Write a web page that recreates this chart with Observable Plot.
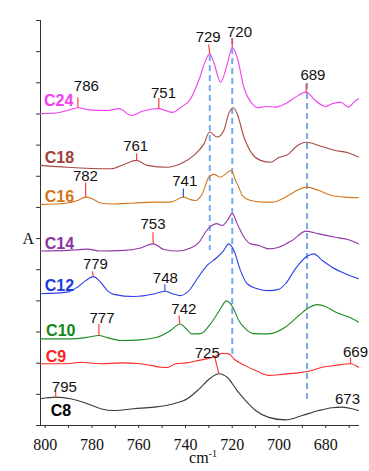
<!DOCTYPE html>
<html><head><meta charset="utf-8">
<script src="https://cdn.jsdelivr.net/npm/d3@7"></script>
<script src="https://cdn.jsdelivr.net/npm/@observablehq/plot@0.6"></script>
<style>body{margin:0;background:#fff}</style>
</head><body><div id="chart"></div>
<script>
// ---- data (wavenumber cm-1, absorbance in stacked axis units) ----
const c24Wn = [802,795.5,790.5,786,781.3,773.4,768.5,763,758.5,751.4,745.7,741.8,737.8,734.3,731.4,729.7,727.9,725,722.1,720,717.9,715,711.5,709.3,705.8,701.5,697.2,693,688.4,684.4,680.1,677.3,673.7,670.2,668,666];
const c24A  = [10.01,10.03,10.11,10.20,10.13,10.11,10.17,9.95,10.09,10.17,10.05,10.22,10.49,11.08,11.72,11.93,11.66,11.02,11.61,12.14,11.82,10.85,10.33,10.20,10.24,10.22,10.33,10.54,10.70,10.43,10.24,10.33,10.38,10.22,10.38,10.49];
const c18Wn = [802,790.5,772,766.3,760.9,756.3,747.8,742.1,736.4,732.1,729.7,726.4,723.6,721.5,719.6,717.9,715,711.5,707.9,703.6,700.1,695.8,693,688.4,683,675.9,670.2,666];
const c18A  = [8.35,8.29,8.24,8.38,8.51,8.35,8.29,8.40,8.67,9.04,9.42,9.26,9.47,10.01,10.20,10.01,9.26,8.72,8.51,8.45,8.60,8.72,8.93,9.09,8.99,8.83,8.75,8.62];
const c16Wn = [802,790.5,786.2,782.7,779.1,776.3,772,762.1,753.5,746.4,740.9,737.8,735.7,732.8,730,727.9,725,722.4,720.4,718.6,717.2,715.7,712.2,706.5,702.9,697.2,693,688,683,677.3,671.6,666];
const c16A  = [7.09,7.14,7.22,7.33,7.25,7.14,7.11,7.14,7.17,7.17,7.33,7.25,7.22,7.44,7.97,8.06,7.97,8.10,8.19,7.87,7.65,7.38,7.22,7.17,7.17,7.33,7.52,7.65,7.54,7.38,7.33,7.31];
const c14Wn = [802,790.5,782,776.3,766.3,759.2,753.8,749.2,743.5,737.8,734.3,731.4,729.3,726.7,724.3,722.1,720,717.9,715,712.2,708.6,704.4,700.1,694.4,688.4,683,675.9,670.2,666];
const c14A  = [5.60,5.62,5.66,5.60,5.62,5.70,5.83,5.65,5.60,5.70,5.87,6.21,6.39,6.48,6.42,6.58,6.80,6.48,6.05,5.83,5.78,5.67,5.72,5.94,6.24,6.15,6.04,5.96,5.83];
const c12Wn = [802,790.5,786.2,782.7,779.4,776.3,773.4,770.6,762.1,753.5,748.8,745.6,742.1,737.8,735,730.7,726.4,723.6,721.5,719.3,716.5,713.6,709.3,704.5,700.2,697.2,693,688,685.1,681.5,677.3,671.6,666];
const c12A  = [4.23,4.28,4.44,4.65,4.78,4.60,4.33,4.21,4.14,4.22,4.31,4.23,4.17,4.39,4.71,5.14,5.40,5.62,5.83,5.62,4.98,4.55,4.39,4.33,4.37,4.55,5.03,5.43,5.51,5.30,5.08,4.87,4.71];
const c10Wn = [802,790.5,782,777,773.4,767.7,759.2,752.1,746.4,742.4,740,737.1,733.5,729.3,725.4,722.4,719.7,717.2,714.3,710.9,704.4,697.2,691.5,687.3,683.7,680.1,675.9,670.2,666];
const c10A  = [2.78,2.78,2.83,2.89,2.82,2.73,2.75,2.83,3.05,3.26,3.13,2.94,2.95,3.26,3.70,4.00,3.79,3.37,3.10,2.95,2.94,3.16,3.53,3.78,3.88,3.82,3.64,3.48,3.32];
const c9Wn  = [802,790.5,784.8,776.3,767.7,759.2,754.9,750.6,747.8,744.2,739.5,734.3,728.5,726.4,724.3,721.5,719,714.7,709,704.4,698.6,693,687.3,681.5,675.9,669.4,666];
const c9A   = [1.98,1.98,2.03,1.98,2.01,1.98,1.93,1.87,1.86,1.98,2.01,2.09,2.19,2.25,2.32,2.30,2.12,1.93,1.73,1.61,1.64,1.68,1.74,1.87,1.93,1.98,1.87];
const c8Wn  = [802,795.5,789.1,782,776.3,770.6,762.1,753.5,745,739.2,734.3,729.7,725.7,722.1,717.9,714.3,710,704.4,697.2,690.1,683,677.3,673,668.7,666];
const c8A   = [0.86,0.91,0.86,0.70,0.54,0.48,0.54,0.59,0.70,0.86,1.16,1.50,1.66,1.54,1.12,0.80,0.48,0.26,0.18,0.32,0.48,0.57,0.59,0.54,0.48];

const seriesNames = ["C24","C18","C16","C14","C12","C10","C9","C8"];
const seriesWn = [c24Wn,c18Wn,c16Wn,c14Wn,c12Wn,c10Wn,c9Wn,c8Wn];
const seriesA  = [c24A,c18A,c16A,c14A,c12A,c10A,c9A,c8A];

// peak labels
const peakLabels = ["786","751","729","720","689","761","782","741","753","779","748","777","742","725","669","795","673"];
const peakWn     = [786,751.4,729.6,720,688.4,760.9,782.7,740.9,753.8,779.4,748.8,777,742.4,725.7,669.4,795.5,673];
const peakA      = [10.20,10.17,11.93,12.14,10.70,8.51,7.33,7.33,5.83,4.78,4.31,2.89,3.26,1.66,1.98,0.90,0.59];

// dashed guide lines
const guideWn = [729.6,720,688];

// x ticks
const xTicks = d3.range(670,801,10);
const yTicks = d3.range(0,14,1);

// ---- layout / style (not data) ----
const seriesColors = ["#f23ff0","#a84a44","#d4781e","#9238a8","#2b3fe8","#1e8c1e","#ff2a2a","#3a3a3a"];
const labelColors  = ["#f23ff0","#a0403a","#d0741a","#8a35a0","#2238e0","#14861a","#ff2020","#000000"];
const labelPos = [[800.5,10.42],[800.2,8.60],[800.2,7.34],[800.2,5.83],[800.2,4.49],[799.6,3.03],[799.8,2.20],[797.6,0.48]];
// tick line: [x1,y1,x2,y2], text: [x,y], colour
const peakLine = [[786,10.53,786,10.20],[751.4,10.51,751.4,10.17],[730.1,12.23,729.6,11.93],[720,12.42,720,12.14],[688.4,10.98,688.4,10.70],
  [760.9,8.73,760.9,8.51],[782.7,7.80,782.7,7.33],[740.9,7.61,740.9,7.33],[753.9,6.20,753.8,5.83],[779.8,4.95,779.4,4.78],
  [748.8,4.53,748.8,4.31],[777,3.26,777,2.89],[742.8,3.53,742.4,3.26],[727.4,2.18,725.7,1.66],[669.4,2.18,669.4,1.98],[795.5,1.09,795.5,0.90],null];
const peakTextPos = [[782.4,10.90],[749.4,10.67],[730.3,12.47],[716.9,12.63],[685.5,11.25],[761.3,8.96],[782.8,7.99],[740.3,7.83],[753.9,6.45],[778.5,5.17],
  [748.6,4.74],[775.7,3.45],[740.7,3.72],[730.7,2.33],[667.3,2.35],[791.8,1.22],[670.7,0.83]];
const peakLineColor = ["#ff3b3b","#ff3b3b","#ff3b3b","#ff3b3b","#ff3b3b","#ff3b3b","#ff3b3b","#3050e0","#ff3b3b","#ff3b3b","#3050e0","#ff3b3b","#ff3b3b","#ff3b3b","#ff3b3b","#ff3b3b",null];
const guideTop = [11.88,12.42,10.98];
const guideBottom = [5.62,2.18,0.74];

// ---- build tables ----
const rows = [];
seriesNames.forEach((s,i)=>seriesWn[i].forEach((w,j)=>rows.push({series:s, wn:w, a:seriesA[i][j]})));
const labels = seriesNames.map((s,i)=>({series:s, x:labelPos[i][0], y:labelPos[i][1], color:labelColors[i]}));
const peaks = peakLabels.map((t,i)=>({t, wn:peakWn[i], a:peakA[i], line:peakLine[i], tx:peakTextPos[i][0], ty:peakTextPos[i][1], c:peakLineColor[i]}));
const peakLinks = peaks.filter(d=>d.line).map(d=>({x1:d.line[0],y1:d.line[1],x2:d.line[2],y2:d.line[3],c:d.c}));
const guides = guideWn.map((w,i)=>({wn:w, y1:guideTop[i], y2:guideBottom[i]}));

const plot = Plot.plot({
  width: 369, height: 471,
  marginTop: 20, marginBottom: 46, marginLeft: 40, marginRight: 11,
  style: {fontFamily: "Liberation Sans, Arial, sans-serif", background: "#fff"},
  x: {domain: [802, 666]},
  y: {domain: [0, 13]},
  color: {domain: seriesNames, range: seriesColors},
  marks: [
    Plot.axisX({ticks: xTicks, tickFormat: d => d % 20 === 0 ? String(d) : "", tickSize: 3, tickPadding: 10,
      fontSize: 16, fontFamily: "Liberation Serif, Times New Roman, serif", label: null, stroke: "#333", color: "#111"}),
    Plot.axisY({ticks: yTicks, tickFormat: () => "", tickSize: 4, label: null, stroke: "#333"}),
    Plot.frame({anchor: "left", stroke: "#333"}),
    Plot.frame({anchor: "bottom", stroke: "#333"}),
    Plot.ruleX(guides, {x: "wn", y1: "y1", y2: "y2", stroke: "#72aaf0", strokeWidth: 2, strokeDasharray: "6,4"}),
    Plot.line(rows, {x: "wn", y: "a", z: "series", stroke: "series", strokeWidth: 1.1, curve: "monotone-x"}),
    Plot.link(peakLinks, {x1: "x1", y1: "y1", x2: "x2", y2: "y2", stroke: d => d.c, strokeWidth: 1.2}),
    Plot.text(peaks, {x: "tx", y: "ty", text: "t", fontSize: 15, fill: "#111"}),
    Plot.text(labels, {x: "x", y: "y", text: "series", fill: d => d.color, fontWeight: "bold", fontSize: 16, textAnchor: "start"}),
    Plot.text(["A"], {frameAnchor: "left", y: 6.0, dx: -18, fontSize: 16, fontFamily: "Liberation Serif, Times New Roman, serif", fill: "#111"})
  ]
});
document.getElementById("chart").append(plot);

// x-axis unit label with superscript
const svg = d3.select(plot);
const t = svg.append("text")
  .attr("x", 203).attr("y", 463)
  .attr("text-anchor", "middle")
  .attr("font-family", "Liberation Serif, Times New Roman, serif")
  .attr("font-size", 16).attr("fill", "#111");
t.append("tspan").text("cm");
t.append("tspan").attr("font-size", 10).attr("dy", -6).text("-1");
</script>
</body></html>
